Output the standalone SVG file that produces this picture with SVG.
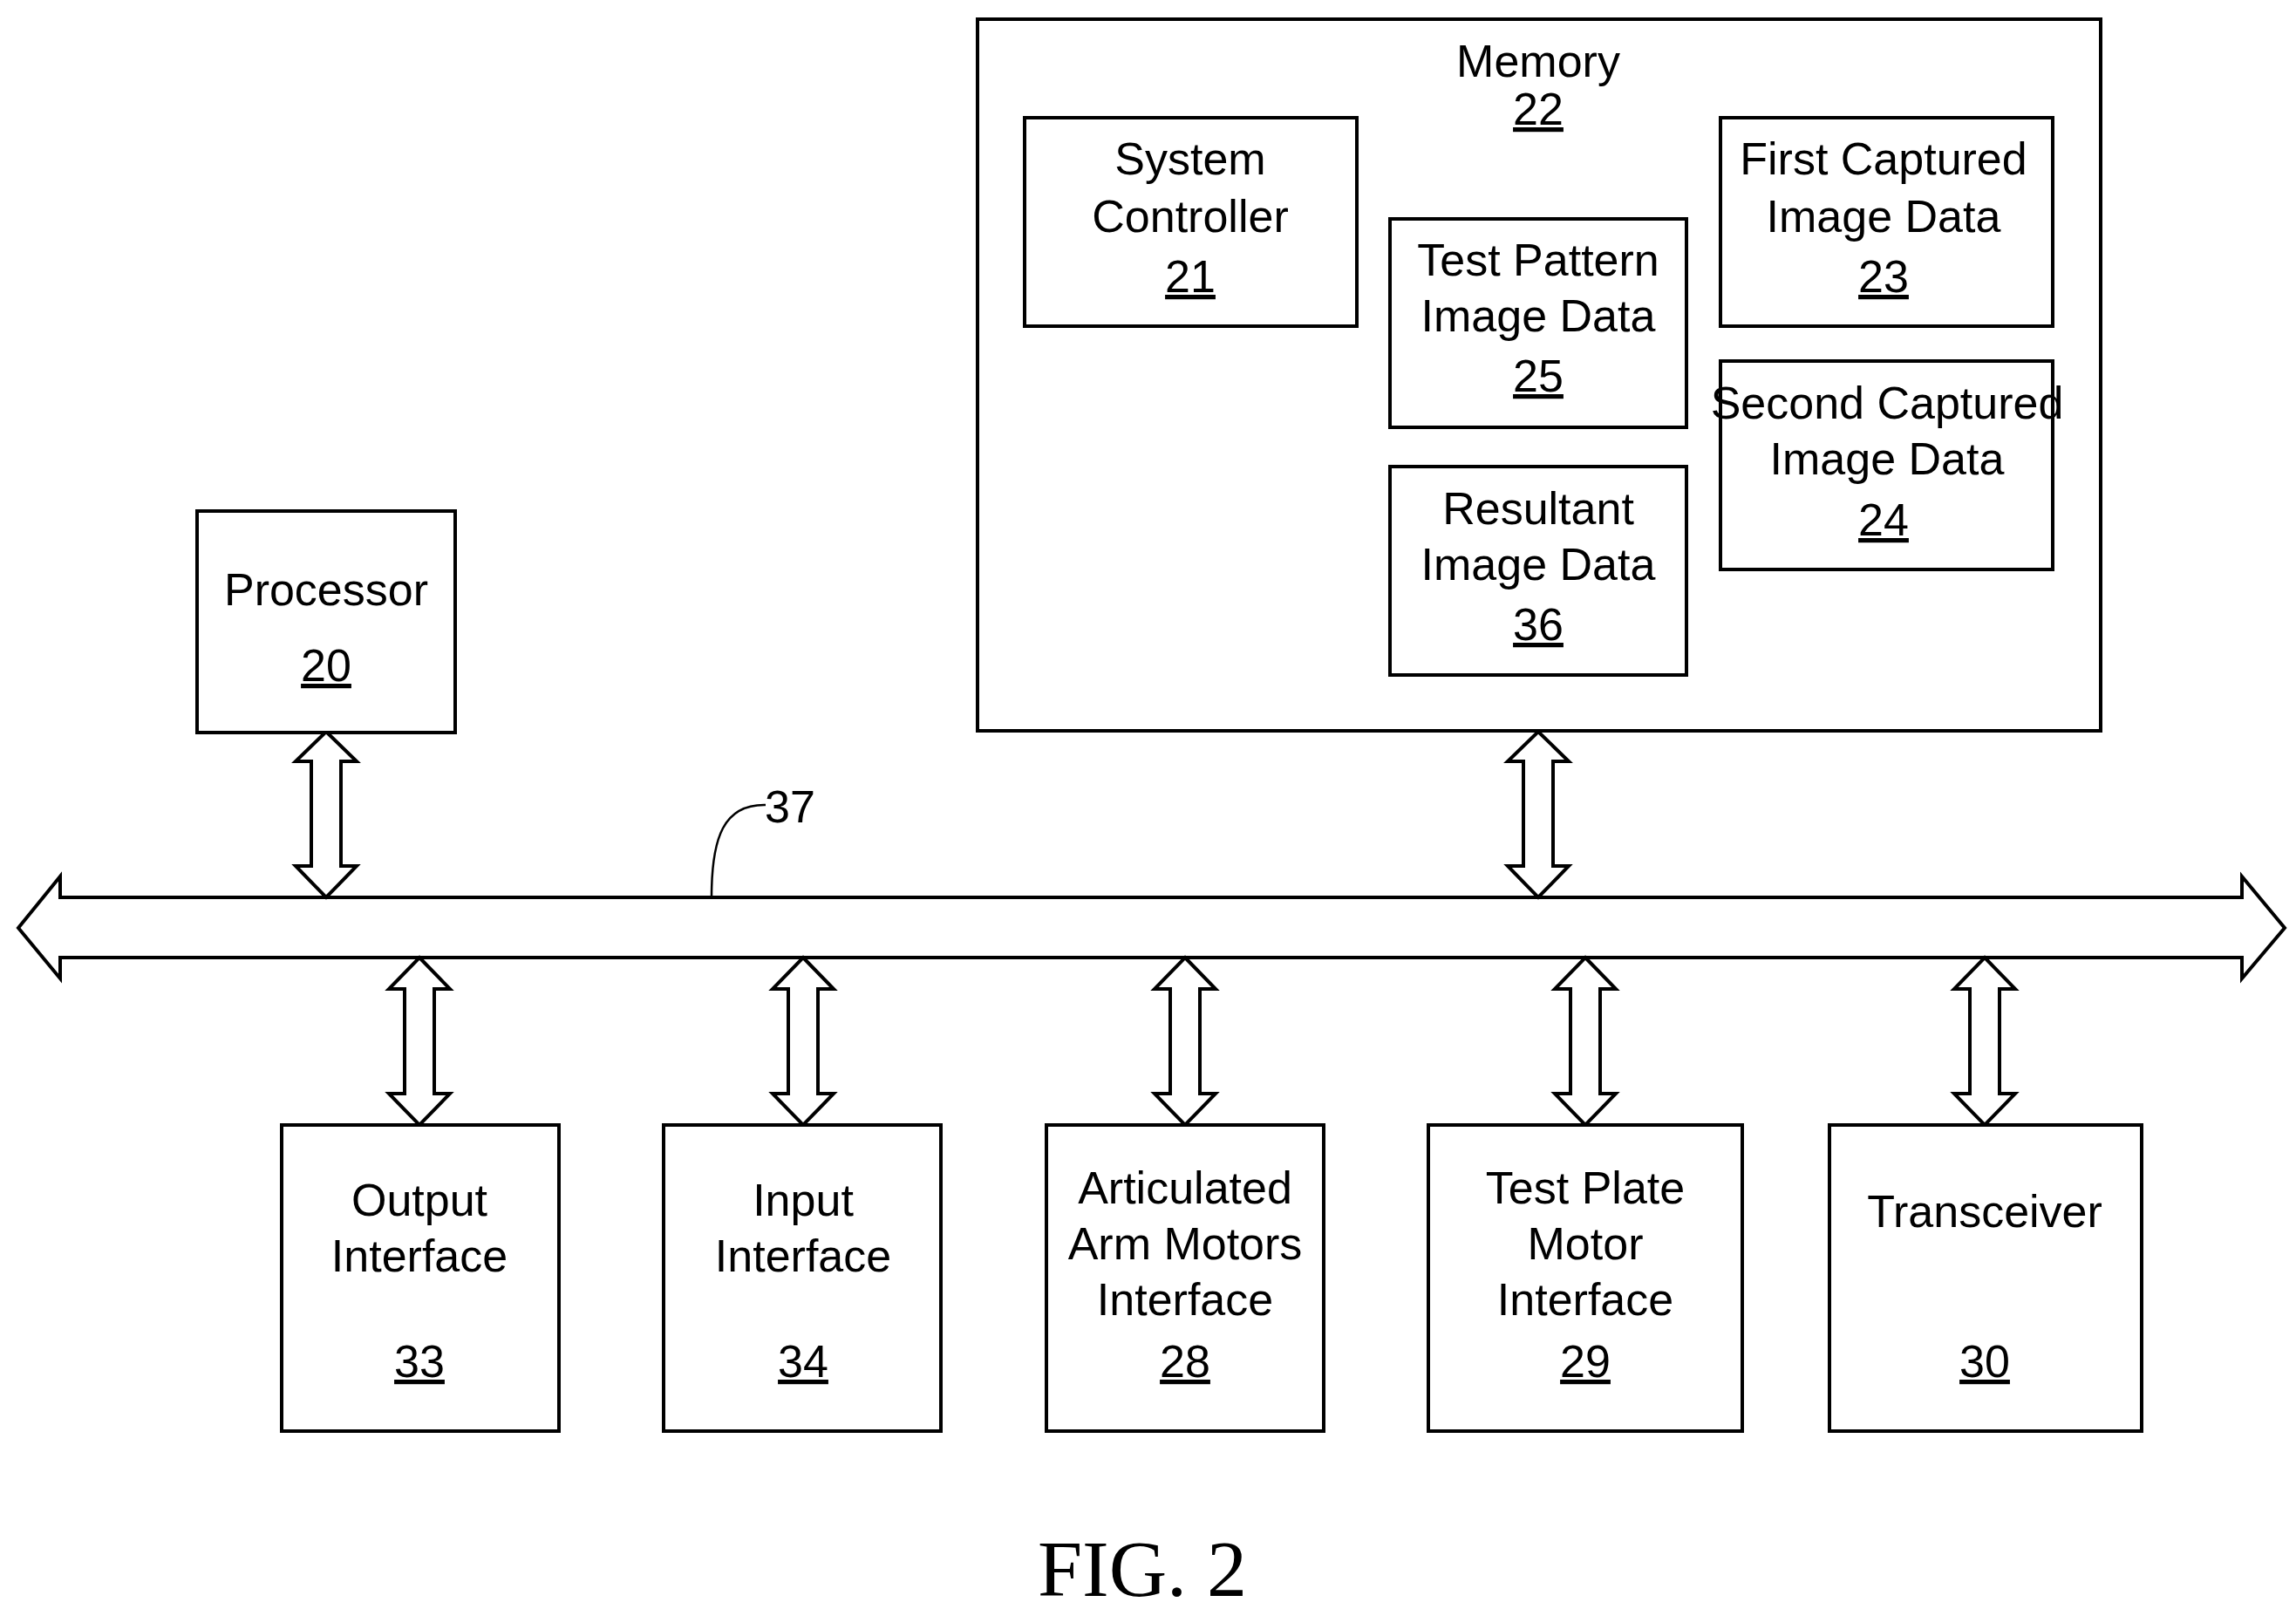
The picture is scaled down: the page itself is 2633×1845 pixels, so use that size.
<svg xmlns="http://www.w3.org/2000/svg" width="2633" height="1845" viewBox="0 0 2633 1845">
<style>
rect{fill:#fff;stroke:#000;stroke-width:4}
.a{fill:#fff;stroke:#000;stroke-width:4;stroke-linejoin:miter}
text{font-family:"Liberation Sans",Arial,sans-serif;font-size:52px;text-anchor:middle;fill:#000}
.u{text-decoration:underline}
</style>
<rect width="2633" height="1845" style="stroke:none"/>
<g id="connectors">
<path class="a" d="M21,1064 L69,1005 L69,1029 L2571,1029 L2571,1005 L2620,1064 L2571,1122 L2571,1098 L69,1098 L69,1122 Z"/>
<path class="a" d="M374,839 L409,873 L391,873 L391,993 L409,993 L374,1029 L339,993 L357,993 L357,873 L339,873 Z"/>
<path class="a" d="M1764,839 L1799,873 L1781,873 L1781,993 L1799,993 L1764,1029 L1729,993 L1747,993 L1747,873 L1729,873 Z"/>
<path class="a" d="M481,1098 L516,1134 L498,1134 L498,1254 L516,1254 L481,1290 L446,1254 L464,1254 L464,1134 L446,1134 Z"/>
<path class="a" d="M921,1098 L956,1134 L938,1134 L938,1254 L956,1254 L921,1290 L886,1254 L904,1254 L904,1134 L886,1134 Z"/>
<path class="a" d="M1359,1098 L1394,1134 L1376,1134 L1376,1254 L1394,1254 L1359,1290 L1324,1254 L1342,1254 L1342,1134 L1324,1134 Z"/>
<path class="a" d="M1818,1098 L1853,1134 L1835,1134 L1835,1254 L1853,1254 L1818,1290 L1783,1254 L1801,1254 L1801,1134 L1783,1134 Z"/>
<path class="a" d="M2276,1098 L2311,1134 L2293,1134 L2293,1254 L2311,1254 L2276,1290 L2241,1254 L2259,1254 L2259,1134 L2241,1134 Z"/>
<path d="M816,1029 C816,960 830,922 878,923" fill="none" stroke="#000" stroke-width="2.5"/>
<text x="906" y="943">37</text>
</g>
<g id="processor"><rect x="226" y="586" width="296" height="254"/><text x="374" y="694">Processor</text><text class="u" x="374" y="781">20</text></g>
<g id="memory"><rect x="1121" y="22" width="1288" height="816"/><text x="1764" y="88">Memory</text><text class="u" x="1764" y="143">22</text></g>
<g id="sysctrl"><rect x="1175" y="135" width="381" height="239"/><text x="1365" y="200">System</text><text x="1365" y="266">Controller</text><text class="u" x="1365" y="335">21</text></g>
<g id="testpattern"><rect x="1594" y="251" width="340" height="239"/><text x="1764" y="316">Test Pattern</text><text x="1764" y="380">Image Data</text><text class="u" x="1764" y="449">25</text></g>
<g id="resultant"><rect x="1594" y="535" width="340" height="239"/><text x="1764" y="601">Resultant</text><text x="1764" y="665">Image Data</text><text class="u" x="1764" y="734">36</text></g>
<g id="first"><rect x="1973" y="135" width="381" height="239"/><text x="2160" y="200">First Captured</text><text x="2160" y="266">Image Data</text><text class="u" x="2160" y="335">23</text></g>
<g id="second"><rect x="1973" y="414" width="381" height="239"/><text x="2164" y="480">Second Captured</text><text x="2164" y="544">Image Data</text><text class="u" x="2160" y="614">24</text></g>
<g id="output"><rect x="323" y="1290" width="318" height="351"/><text x="481" y="1394">Output</text><text x="481" y="1458">Interface</text><text class="u" x="481" y="1579">33</text></g>
<g id="input"><rect x="761" y="1290" width="318" height="351"/><text x="921" y="1394">Input</text><text x="921" y="1458">Interface</text><text class="u" x="921" y="1579">34</text></g>
<g id="arm"><rect x="1200" y="1290" width="318" height="351"/><text x="1359" y="1380">Articulated</text><text x="1359" y="1444">Arm Motors</text><text x="1359" y="1508">Interface</text><text class="u" x="1359" y="1579">28</text></g>
<g id="plate"><rect x="1638" y="1290" width="360" height="351"/><text x="1818" y="1380">Test Plate</text><text x="1818" y="1444">Motor</text><text x="1818" y="1508">Interface</text><text class="u" x="1818" y="1579">29</text></g>
<g id="transceiver"><rect x="2098" y="1290" width="358" height="351"/><text x="2276" y="1407">Transceiver</text><text class="u" x="2276" y="1579">30</text></g>
<text x="1310" y="1830" style="font-family:'Liberation Serif','Times New Roman',serif;font-size:92px">FIG. 2</text>
</svg>
